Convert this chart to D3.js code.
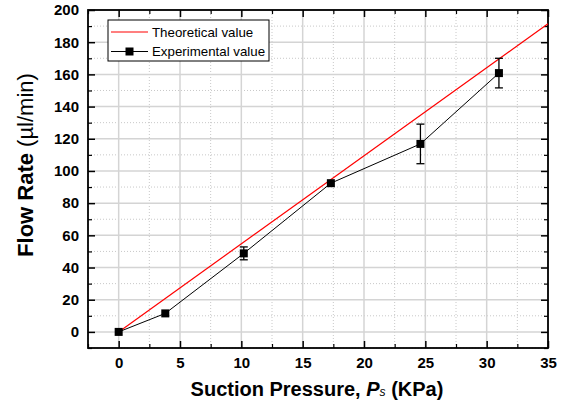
<!DOCTYPE html>
<html>
<head>
<meta charset="utf-8">
<script src="https://cdn.jsdelivr.net/npm/d3@7"></script>
<style>
  body { margin: 0; background: #fff; }
  svg { display: block; font-family: Arial, "Liberation Sans", sans-serif; }
</style>
</head>
<body>
<svg id="chart" width="566" height="405"></svg>
<script>
// data
var pressure = [0, 3.8, 10.2, 17.3, 24.6, 31.0];
var flowRate = [0, 11.5, 48.8, 92.4, 116.8, 160.8];
var flowError = [0, 0, 4, 0, 12.3, 9.2];
var theoryPressure = [0, 35];
var theoryFlow = [0, 191.5];
var xTicks = [0, 5, 10, 15, 20, 25, 30, 35];
var yTicks = [0, 20, 40, 60, 80, 100, 120, 140, 160, 180, 200];
var legendLabels = ["Theoretical value", "Experimental value"];

var svg = d3.select("#chart");
var width = 566, height = 405;
var margin = { left: 88, right: 18, top: 10, bottom: 57 };

var x = d3.scaleLinear()
  .domain([-2.5, 35])
  .range([margin.left, width - margin.right]);

var y = d3.scaleLinear()
  .domain([-10, 200])
  .range([height - margin.bottom, margin.top]);

var xMinor = d3.range(-2.5, 35.01, 2.5).filter(v => xTicks.indexOf(v) < 0);
var yMinor = d3.range(-10, 200.01, 10).filter(v => yTicks.indexOf(v) < 0);

// grid
var grid = svg.append("g");
grid.selectAll(".gx-minor").data(xMinor).join("line")
  .attr("x1", d => x(d)).attr("x2", d => x(d))
  .attr("y1", y.range()[0]).attr("y2", y.range()[1])
  .attr("stroke", "#c8c8c8").attr("stroke-dasharray", "1,2");
grid.selectAll(".gy-minor").data(yMinor).join("line")
  .attr("y1", d => y(d)).attr("y2", d => y(d))
  .attr("x1", x.range()[0]).attr("x2", x.range()[1])
  .attr("stroke", "#c8c8c8").attr("stroke-dasharray", "1,2");
grid.selectAll(".gx").data(xTicks).join("line")
  .attr("x1", d => x(d)).attr("x2", d => x(d))
  .attr("y1", y.range()[0]).attr("y2", y.range()[1])
  .attr("stroke", "#d4d4d4").attr("stroke-width", 1.5);
grid.selectAll(".gy").data(yTicks).join("line")
  .attr("y1", d => y(d)).attr("y2", d => y(d))
  .attr("x1", x.range()[0]).attr("x2", x.range()[1])
  .attr("stroke", "#d4d4d4").attr("stroke-width", 1.5);

// axes with inward ticks on all four sides
function styleAxis(g) {
  g.select(".domain").remove();
  g.selectAll(".tick line").attr("stroke", "#000").attr("stroke-width", 1.5);
}
function minorAxis(g) {
  g.select(".domain").remove();
  g.selectAll(".tick line").attr("stroke", "#000").attr("stroke-width", 1.2);
  g.selectAll(".tick text").remove();
}

svg.append("g")
  .attr("transform", `translate(0,${y.range()[0]})`)
  .call(d3.axisBottom(x).tickValues(xTicks).tickSizeInner(-7).tickPadding(9))
  .call(styleAxis)
  .selectAll("text")
  .attr("font-size", 15).attr("font-weight", "bold").attr("fill", "#000");
svg.append("g")
  .attr("transform", `translate(0,${y.range()[0]})`)
  .call(d3.axisBottom(x).tickValues(xMinor).tickSizeInner(-4))
  .call(minorAxis);
svg.append("g")
  .attr("transform", `translate(0,${y.range()[1]})`)
  .call(d3.axisTop(x).tickValues(xTicks).tickSizeInner(-7).tickFormat(""))
  .call(styleAxis);
svg.append("g")
  .attr("transform", `translate(0,${y.range()[1]})`)
  .call(d3.axisTop(x).tickValues(xMinor).tickSizeInner(-4))
  .call(minorAxis);

svg.append("g")
  .attr("transform", `translate(${x.range()[0]},0)`)
  .call(d3.axisLeft(y).tickValues(yTicks).tickSizeInner(-7).tickPadding(9))
  .call(styleAxis)
  .selectAll("text")
  .attr("font-size", 15).attr("font-weight", "bold").attr("fill", "#000");
svg.append("g")
  .attr("transform", `translate(${x.range()[0]},0)`)
  .call(d3.axisLeft(y).tickValues(yMinor).tickSizeInner(-4))
  .call(minorAxis);
svg.append("g")
  .attr("transform", `translate(${x.range()[1]},0)`)
  .call(d3.axisRight(y).tickValues(yTicks).tickSizeInner(-7).tickFormat(""))
  .call(styleAxis);
svg.append("g")
  .attr("transform", `translate(${x.range()[1]},0)`)
  .call(d3.axisRight(y).tickValues(yMinor).tickSizeInner(-4))
  .call(minorAxis);

// frame
svg.append("rect")
  .attr("x", x.range()[0]).attr("y", y.range()[1])
  .attr("width", x.range()[1] - x.range()[0])
  .attr("height", y.range()[0] - y.range()[1])
  .attr("fill", "none").attr("stroke", "#000").attr("stroke-width", 1.8);

var line = d3.line().x(d => x(d[0])).y(d => y(d[1]));

// theoretical line
svg.append("path")
  .datum(d3.zip(theoryPressure, theoryFlow))
  .attr("d", line)
  .attr("fill", "none").attr("stroke", "#ff0000").attr("stroke-width", 1.2);

// experimental series
var exp = pressure.map((p, i) => ({ p: p, q: flowRate[i], e: flowError[i] }));

svg.append("path")
  .datum(exp.map(d => [d.p, d.q]))
  .attr("d", line)
  .attr("fill", "none").attr("stroke", "#000").attr("stroke-width", 1);

var bars = svg.append("g").selectAll("g")
  .data(exp.filter(d => d.e > 0))
  .join("g")
  .attr("stroke", "#000").attr("stroke-width", 1.3);
bars.append("line")
  .attr("x1", d => x(d.p)).attr("x2", d => x(d.p))
  .attr("y1", d => y(d.q - d.e)).attr("y2", d => y(d.q + d.e));
bars.append("line")
  .attr("x1", d => x(d.p) - 4).attr("x2", d => x(d.p) + 4)
  .attr("y1", d => y(d.q + d.e)).attr("y2", d => y(d.q + d.e));
bars.append("line")
  .attr("x1", d => x(d.p) - 4).attr("x2", d => x(d.p) + 4)
  .attr("y1", d => y(d.q - d.e)).attr("y2", d => y(d.q - d.e));

svg.append("g").selectAll("rect")
  .data(exp)
  .join("rect")
  .attr("x", d => x(d.p) - 4).attr("y", d => y(d.q) - 4)
  .attr("width", 8).attr("height", 8)
  .attr("fill", "#000");

// legend
var legend = svg.append("g").attr("transform", "translate(108,20)");
legend.append("rect")
  .attr("width", 161).attr("height", 41)
  .attr("fill", "#fff").attr("stroke", "#000").attr("stroke-width", 1);
var rows = legend.selectAll("g.row")
  .data(legendLabels)
  .join("g")
  .attr("transform", (d, i) => `translate(0,${12 + i * 19.5})`);
rows.append("line")
  .attr("x1", 3).attr("x2", 40)
  .attr("stroke", (d, i) => i === 0 ? "#ff0000" : "#000")
  .attr("stroke-width", (d, i) => i === 0 ? 1.2 : 1);
rows.filter((d, i) => i === 1).append("rect")
  .attr("x", 17.5).attr("y", -4).attr("width", 8).attr("height", 8)
  .attr("fill", "#000");
rows.append("text")
  .attr("x", 44).attr("dy", "0.35em")
  .attr("font-size", 13.3)
  .text(d => d);

// axis titles
var xt = svg.append("text")
  .attr("x", 317)
  .attr("y", 396)
  .attr("text-anchor", "middle")
  .attr("font-size", 20).attr("font-weight", "bold");
xt.append("tspan").text("Suction Pressure, ");
xt.append("tspan").attr("font-style", "italic").text("P");
xt.append("tspan").attr("font-style", "italic").attr("font-size", 12).attr("font-weight", "normal").text("s");
xt.append("tspan").text(" (KPa)");

var yt = svg.append("text")
  .attr("transform", "translate(33,165) rotate(-90)")
  .attr("text-anchor", "middle")
  .attr("font-size", 22);
yt.append("tspan").attr("font-weight", "bold").text("Flow Rate ");
yt.append("tspan").text("(µl/min)");
</script>
</body>
</html>
